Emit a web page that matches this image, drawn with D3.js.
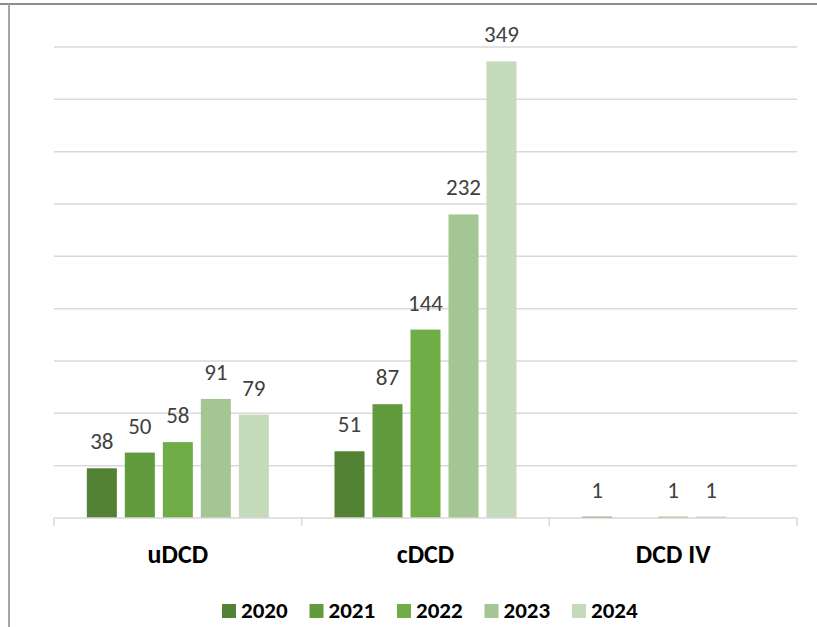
<!DOCTYPE html>
<html>
<head>
<meta charset="utf-8">
<script src="https://cdn.jsdelivr.net/npm/d3@7"></script>
<style>
  html, body { margin: 0; padding: 0; background: #fff; }
  svg { display: block; }
</style>
</head>
<body>
<svg id="chart" width="817" height="627"></svg>
<script>
// Case counts per category and year
const categories = ["uDCD", "cDCD", "DCD IV"];
const years = ["2020", "2021", "2022", "2023", "2024"];
const values2020 = [38, 51, 1];
const values2021 = [50, 87, null];
const values2022 = [58, 144, 1];
const values2023 = [91, 232, 1];
const values2024 = [79, 349, null];
const yTicks = [0, 40, 80, 120, 160, 200, 240, 280, 320, 360];
const colors = ["#548235", "#629a3e", "#70ad47", "#a4c692", "#c5d9bb"];

const seriesValues = [values2020, values2021, values2022, values2023, values2024];

const svg = d3.select("#chart");
const W = 817, H = 627;
const plot = { left: 54, right: 797, top: 47, bottom: 518 };
const font = "Calibri, Carlito, 'Liberation Sans', Arial, sans-serif";

// Outer frame (top and left edges visible)
svg.append("line").attr("x1", 0).attr("x2", W).attr("y1", 4).attr("y2", 4)
  .attr("stroke", "#8c8c8c").attr("stroke-width", 2);
svg.append("line").attr("x1", 9).attr("x2", 9).attr("y1", 4).attr("y2", H)
  .attr("stroke", "#a6a6a6").attr("stroke-width", 2);

const x0 = d3.scaleBand().domain(categories).range([plot.left, plot.right]).padding(0);
const x1 = d3.scaleBand().domain(years).range([0, x0.bandwidth()])
  .paddingInner(0.21).paddingOuter(0.864);
const y = d3.scaleLinear().domain([0, 360]).range([plot.bottom, plot.top]);

// Horizontal gridlines
svg.append("g").selectAll("line").data(yTicks.filter(t => t > 0)).join("line")
  .attr("x1", plot.left).attr("x2", plot.right)
  .attr("y1", d => y(d)).attr("y2", d => y(d))
  .attr("stroke", "#d9d9d9").attr("stroke-width", 1.5);

// Bars
const groups = svg.append("g").selectAll("g").data(categories).join("g")
  .attr("transform", c => `translate(${x0(c)},0)`);

groups.each(function(c, ci) {
  const g = d3.select(this);
  const data = years.map((yr, si) => ({ yr, si, v: seriesValues[si][ci] }))
    .filter(d => d.v !== null);
  g.selectAll("rect").data(data).join("rect")
    .attr("x", d => x1(d.yr))
    .attr("width", x1.bandwidth())
    .attr("y", d => y(d.v))
    .attr("height", d => y(0) - y(d.v))
    .attr("fill", d => colors[d.si]);
  g.selectAll("text").data(data).join("text")
    .attr("x", d => x1(d.yr) + x1.bandwidth() / 2)
    .attr("y", d => y(d.v) - 19)
    .attr("text-anchor", "middle")
    .attr("font-family", font)
    .attr("font-size", 23)
    .attr("fill", "#404040")
    .text(d => d.v);
});

// Category axis
const axis = svg.append("g");
axis.append("line").attr("x1", plot.left).attr("x2", plot.right)
  .attr("y1", plot.bottom).attr("y2", plot.bottom)
  .attr("stroke", "#d9d9d9").attr("stroke-width", 1.5);
const tickXs = categories.map(c => x0(c)).concat([x0(categories[categories.length - 1]) + x0.bandwidth()]);
axis.selectAll("line.tick").data(tickXs).join("line").attr("class", "tick")
  .attr("x1", d => d).attr("x2", d => d)
  .attr("y1", plot.bottom).attr("y2", plot.bottom + 8)
  .attr("stroke", "#d9d9d9").attr("stroke-width", 1.5);
axis.selectAll("text").data(categories).join("text")
  .attr("x", c => x0(c) + x0.bandwidth() / 2)
  .attr("y", 563)
  .attr("text-anchor", "middle")
  .attr("font-family", font)
  .attr("font-size", 26)
  .attr("font-weight", "bold")
  .attr("fill", "#000")
  .text(c => c);

// Legend
const legendStart = 222, legendStep = 87.5;
const legend = svg.append("g").selectAll("g").data(years).join("g")
  .attr("transform", (d, i) => `translate(${legendStart + i * legendStep},604)`);
legend.append("rect").attr("width", 14).attr("height", 14)
  .attr("fill", (d, i) => colors[i]);
legend.append("text").attr("x", 19).attr("y", 14)
  .attr("font-family", font).attr("font-size", 23).attr("font-weight", "bold")
  .attr("fill", "#000").text(d => d);
</script>
</body>
</html>
